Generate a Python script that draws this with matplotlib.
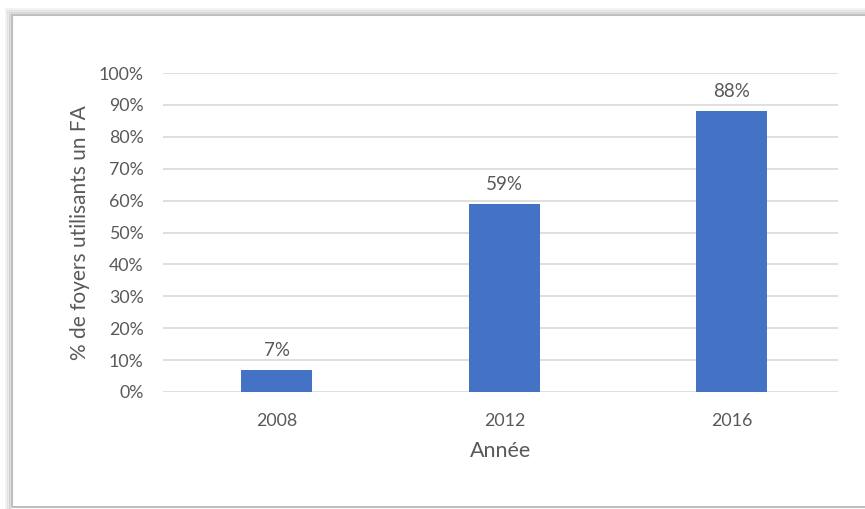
import matplotlib.pyplot as plt
from matplotlib.patches import Rectangle
from matplotlib.ticker import PercentFormatter

years = ["2008", "2012", "2016"]
share = [0.07, 0.59, 0.88]
y_ticks = [i / 10 for i in range(11)]

BAR = "#4472C4"
TXT = "#595959"
GRID = "#D9D9D9"

plt.rcParams["font.family"] = ["Lato", "DejaVu Sans"]

W, H = 865, 509
fig = plt.figure(figsize=(W / 100, H / 100), dpi=100)

# soft framed border around the chart (shadow + edge)
for off, a in [(6, 0.05), (4, 0.08), (2, 0.12)]:
    fig.patches.append(Rectangle(((12 - off) / W, -0.1), 1.2, (H - 15 + off) / H + 0.1,
                                 transform=fig.transFigure, fill=False,
                                 edgecolor="black", alpha=a, lw=2))
fig.patches.append(Rectangle((12 / W, 2 / H), 1.2, (H - 17) / H,
                             transform=fig.transFigure, fill=False,
                             edgecolor="#BFBFBF", lw=1.5))

ax = fig.add_axes([163 / W, 1 - 392 / H, (838 - 163) / W, (392 - 73) / H])

x = range(len(years))
bars = ax.bar(x, share, width=0.312, color=BAR, zorder=3)
for xi, v in zip(x, share):
    ax.annotate(f"{v:.0%}", (xi, v), xytext=(0, 8), textcoords="offset points",
                ha="center", va="bottom", color=TXT, fontsize=13.5)

ax.set_xlim(-0.5, 2.466)
ax.set_ylim(0, 1)
ax.set_yticks(y_ticks)
ax.yaxis.set_major_formatter(PercentFormatter(1.0, decimals=0))
ax.set_xticks(list(x))
ax.set_xticklabels(years)
ax.grid(axis="y", color=GRID, lw=1.2, zorder=0)
for s in ["top", "right", "left", "bottom"]:
    ax.spines[s].set_visible(False)
ax.tick_params(axis="both", length=0, colors=TXT, labelsize=12.8)
ax.tick_params(axis="y", pad=14)
ax.tick_params(axis="x", pad=15)

ax.set_xlabel("Année", color=TXT, fontsize=15.5, labelpad=9)
ax.set_ylabel("% de foyers utilisants un FA", color=TXT, fontsize=15, labelpad=6)

fig.savefig("out.png", dpi=100)
